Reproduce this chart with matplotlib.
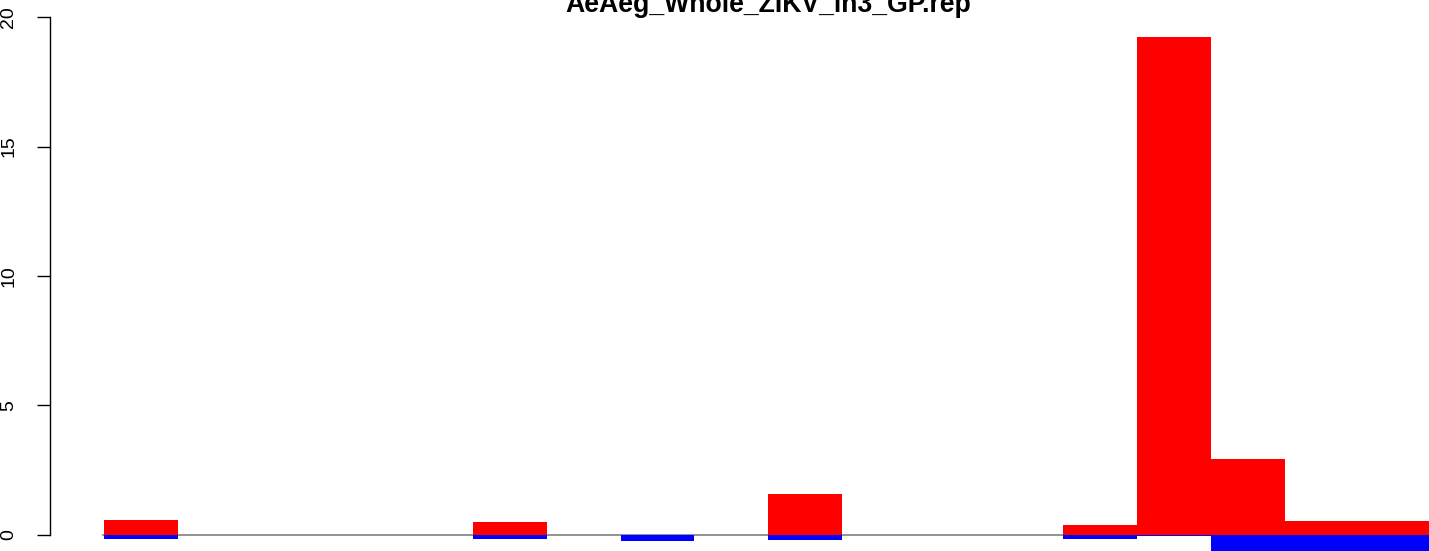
import matplotlib
matplotlib.use("Agg")
import matplotlib.pyplot as plt

title = "AeAeg_Whole_ZIKV_in3_GP.rep"
positions = list(range(18))
pos_values = [0.56, 0, 0, 0, 0, 0.48, 0, 0, 0, 1.57, 0, 0, 0, 0.37, 19.25, 2.92, 0.52, 0.52]
neg_values = [-0.18, 0, 0, 0, 0, -0.18, 0, -0.25, 0, -0.22, 0, 0, 0, -0.17, -0.05, -0.8, -0.8, -0.8]
yticks = [0, 5, 10, 15, 20]

W, H = 1429, 551
fig = plt.figure(figsize=(W / 100, H / 100), dpi=100)
plt.rcParams['font.family'] = ['Liberation Sans', 'DejaVu Sans']

ax_left_px = 50
ax = fig.add_axes([ax_left_px / W, 0, 1 - ax_left_px / W, 1])

# pixel mapping
bar0_px = 104.0
bar_w_px = 73.8
xmin = (ax_left_px - bar0_px) / bar_w_px
xmax = (W - bar0_px) / bar_w_px
y0_px = 16.5          # from bottom
y20_px = H - 17.3     # from bottom
upp = 20 / (y20_px - y0_px)
ymin = -y0_px * upp
ymax = 20 + (H - y20_px) * upp

ax.set_xlim(xmin, xmax)
ax.set_ylim(ymin, ymax)

ax.plot([-0.02, xmax], [0, 0], color='#808080', lw=1.2, zorder=1)
ax.bar(positions, pos_values, width=1.0, align='edge', color='#ff0000', linewidth=0, zorder=2)
ax.bar(positions, neg_values, width=1.0, align='edge', color='#0000ff', linewidth=0, zorder=3)

for s in ['top', 'right', 'bottom']:
    ax.spines[s].set_visible(False)
ax.spines['left'].set_bounds(0, 20)
ax.spines['left'].set_linewidth(1.0)
ax.set_xticks([])
ax.set_yticks(yticks)
ax.set_yticklabels([str(v) for v in yticks], rotation=90, va='center')
ax.tick_params(axis='y', length=9.4, width=1.0, labelsize=14, pad=14)
ax.patch.set_alpha(0)

fig.text(768 / W, 1 - 12.5 / H, title, ha='center', va='baseline',
         fontsize=19.2, fontweight='bold')

fig.savefig('out.png', dpi=100)
